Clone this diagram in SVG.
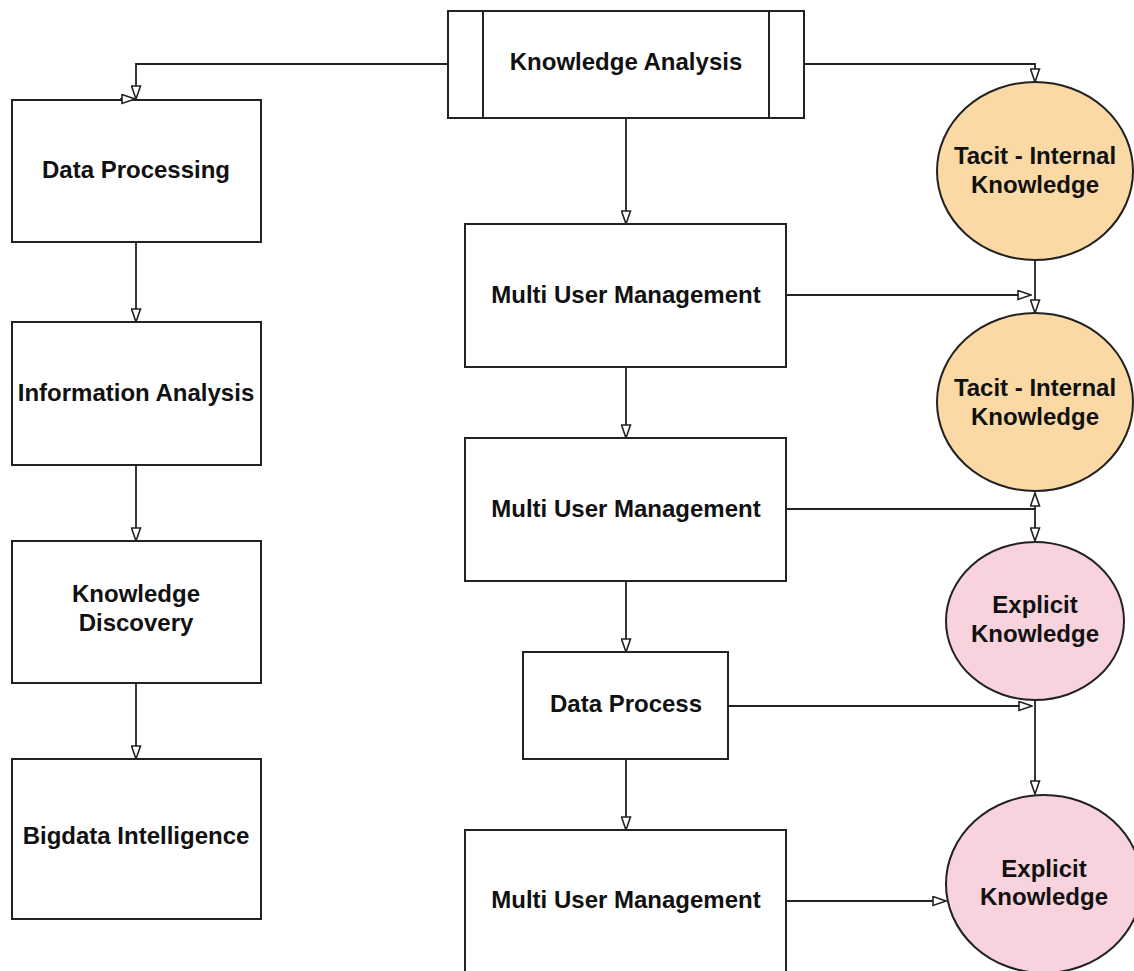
<svg xmlns="http://www.w3.org/2000/svg" width="1134" height="971" viewBox="0 0 1134 971">
  <style>
    .box { fill: #ffffff; stroke: #222222; stroke-width: 2; }
    .tacit { fill: #fad9a5; stroke: #222222; stroke-width: 2; }
    .explicit { fill: #f8d2dc; stroke: #222222; stroke-width: 2; }
    .lbl { font-family: "Liberation Sans", Arial, sans-serif; font-weight: bold; font-size: 24px; fill: #111111; text-anchor: middle; }
    .wire { fill: none; stroke: #222222; stroke-width: 1.8; }
  </style>
  <defs>
    <marker id="open-arrow" viewBox="0 0 15 11" refX="14" refY="5.5" markerWidth="15" markerHeight="11" markerUnits="userSpaceOnUse" orient="auto">
      <path d="M1,1 L14,5.5 L1,10 Z" fill="#ffffff" stroke="#222222" stroke-width="1.6"/>
    </marker>
  </defs>

  <rect width="1134" height="971" fill="#ffffff"/>

  <!-- left column -->
  <g id="data-processing">
    <rect class="box" x="12" y="100" width="249" height="142"/>
    <text class="lbl" x="136" y="178">Data Processing</text>
  </g>
  <g id="information-analysis">
    <rect class="box" x="12" y="322" width="249" height="143"/>
    <text class="lbl" x="136" y="401">Information Analysis</text>
  </g>
  <g id="knowledge-discovery">
    <rect class="box" x="12" y="541" width="249" height="142"/>
    <text class="lbl" x="136" y="602">Knowledge</text>
    <text class="lbl" x="136" y="631">Discovery</text>
  </g>
  <g id="bigdata-intelligence">
    <rect class="box" x="12" y="759" width="249" height="160"/>
    <text class="lbl" x="136" y="844">Bigdata Intelligence</text>
  </g>

  <!-- centre column -->
  <g id="knowledge-analysis">
    <rect class="box" x="448" y="11" width="356" height="107"/>
    <line class="box" x1="483" y1="11" x2="483" y2="118"/>
    <line class="box" x1="769" y1="11" x2="769" y2="118"/>
    <text class="lbl" x="626" y="70">Knowledge Analysis</text>
  </g>
  <g id="multi-user-management-1">
    <rect class="box" x="465" y="224" width="321" height="143"/>
    <text class="lbl" x="626" y="303">Multi User Management</text>
  </g>
  <g id="multi-user-management-2">
    <rect class="box" x="465" y="438" width="321" height="143"/>
    <text class="lbl" x="626" y="517">Multi User Management</text>
  </g>
  <g id="data-process">
    <rect class="box" x="523" y="652" width="205" height="107"/>
    <text class="lbl" x="626" y="712">Data Process</text>
  </g>
  <g id="multi-user-management-3">
    <rect class="box" x="465" y="830" width="321" height="150"/>
    <text class="lbl" x="626" y="908">Multi User Management</text>
  </g>

  <!-- right column -->
  <g id="tacit-internal-1">
    <ellipse class="tacit" cx="1035" cy="171" rx="98" ry="89"/>
    <text class="lbl" x="1035" y="164">Tacit - Internal</text>
    <text class="lbl" x="1035" y="193">Knowledge</text>
  </g>
  <g id="tacit-internal-2">
    <ellipse class="tacit" cx="1035" cy="402" rx="98" ry="89"/>
    <text class="lbl" x="1035" y="396">Tacit - Internal</text>
    <text class="lbl" x="1035" y="425">Knowledge</text>
  </g>
  <g id="explicit-1">
    <ellipse class="explicit" cx="1035" cy="621" rx="89" ry="79"/>
    <text class="lbl" x="1035" y="613">Explicit</text>
    <text class="lbl" x="1035" y="642">Knowledge</text>
  </g>
  <g id="explicit-2">
    <ellipse class="explicit" cx="1044" cy="884" rx="98" ry="89"/>
    <text class="lbl" x="1044" y="877">Explicit</text>
    <text class="lbl" x="1044" y="905">Knowledge</text>
  </g>

  <!-- connectors, drawn over the node outlines -->
  <g id="connectors">
    <path class="wire" d="M448,64 H136 V99" marker-end="url(#open-arrow)"/>
    <path class="wire" d="M120,99 H135" marker-end="url(#open-arrow)"/>
    <path class="wire" d="M136,242 V322" marker-end="url(#open-arrow)"/>
    <path class="wire" d="M136,465 V541" marker-end="url(#open-arrow)"/>
    <path class="wire" d="M136,683 V759" marker-end="url(#open-arrow)"/>

    <path class="wire" d="M626,118 V224" marker-end="url(#open-arrow)"/>
    <path class="wire" d="M626,367 V438" marker-end="url(#open-arrow)"/>
    <path class="wire" d="M626,581 V652" marker-end="url(#open-arrow)"/>
    <path class="wire" d="M626,759 V830" marker-end="url(#open-arrow)"/>

    <path class="wire" d="M804,64 H1035 V82" marker-end="url(#open-arrow)"/>
    <path class="wire" d="M786,295 H1031" marker-end="url(#open-arrow)"/>
    <path class="wire" d="M1035,260 V313" marker-end="url(#open-arrow)"/>
    <path class="wire" d="M786,509 H1035 V541" marker-end="url(#open-arrow)"/>
    <path class="wire" d="M1035,509 V493" marker-end="url(#open-arrow)"/>
    <path class="wire" d="M728,706 H1032" marker-end="url(#open-arrow)"/>
    <path class="wire" d="M1035,700 V794" marker-end="url(#open-arrow)"/>
    <path class="wire" d="M786,901 H946" marker-end="url(#open-arrow)"/>
  </g>
</svg>
